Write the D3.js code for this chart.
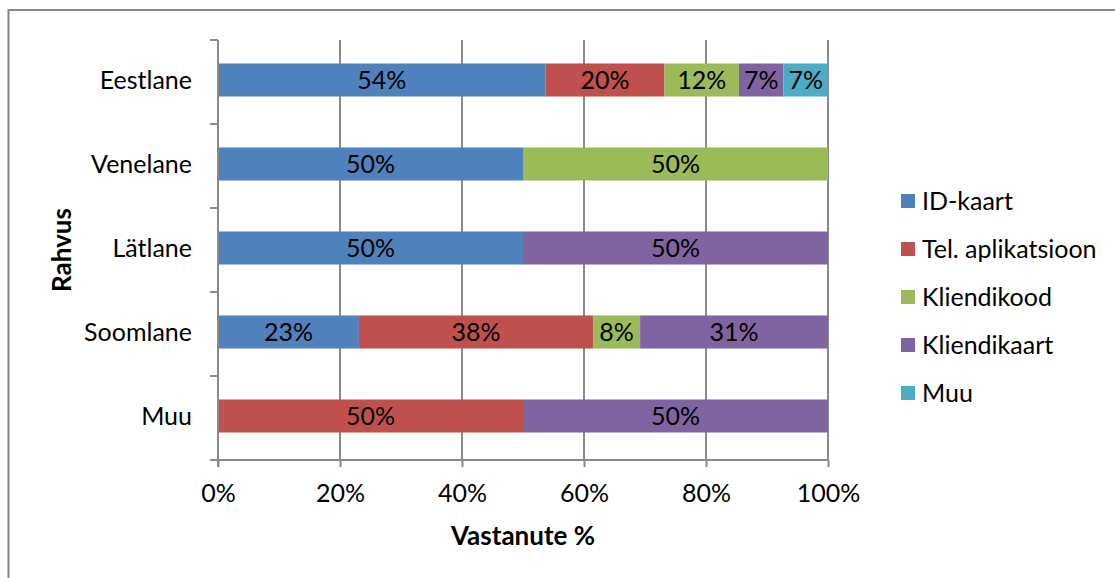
<!DOCTYPE html>
<html>
<head>
<meta charset="utf-8">
<script src="https://cdn.jsdelivr.net/npm/d3@7"></script>
<style>
  html, body { margin: 0; padding: 0; background: #fff; }
  svg { display: block; font-family: Lato, "Open Sans", sans-serif; }
</style>
</head>
<body>
<svg id="chart" width="1115" height="578"></svg>
<script>
// Nationalities (top to bottom) and response shares in percent
const categories = ["Eestlane", "Venelane", "Lätlane", "Soomlane", "Muu"];
const seriesNames = ["ID-kaart", "Tel. aplikatsioon", "Kliendikood", "Kliendikaart", "Muu"];
const idKaart      = [53.7, 50, 50, 23.1, 0];
const telAplik     = [19.5, 0, 0, 38.4, 50];
const kliendikood  = [12.2, 50, 0, 7.7, 0];
const kliendikaart = [7.3, 0, 50, 30.8, 50];
const muu          = [7.3, 0, 0, 0, 0];
const xTicks = [0, 20, 40, 60, 80, 100];
const colors = ["#4F81BD", "#C0504D", "#9BBB59", "#8064A2", "#4BACC6"];

const seriesValues = [idKaart, telAplik, kliendikood, kliendikaart, muu];
const rows = categories.map((c, i) => {
  const r = { cat: c };
  seriesNames.forEach((s, j) => r[s] = seriesValues[j][i]);
  return r;
});

const FS = 25;      // regular text size
const FSB = 26;     // bold title size

const svg = d3.select("#chart");
const plot = { left: 218, right: 828, top: 40, bottom: 460 };

// outer chart frame
svg.append("rect")
  .attr("x", 8.5).attr("y", 10).attr("width", 1300).attr("height", 800)
  .attr("fill", "none").attr("stroke", "#878787").attr("stroke-width", 2);

const x = d3.scaleLinear().domain([0, 100]).range([plot.left, plot.right]);
const y = d3.scaleBand().domain(categories).range([plot.top - 2, plot.bottom - 2])
  .paddingInner(0.607).paddingOuter(0.3035);

const gridColor = "#8a8a8a";

// vertical gridlines
svg.append("g").selectAll("line").data(xTicks.filter(t => t > 0)).join("line")
  .attr("x1", d => x(d)).attr("x2", d => x(d))
  .attr("y1", plot.top).attr("y2", plot.bottom)
  .attr("stroke", gridColor).attr("stroke-width", 2);

// stacked bars
const stack = d3.stack().keys(seriesNames)(rows);
const layers = svg.append("g").selectAll("g").data(stack).join("g")
  .attr("fill", (d, i) => colors[i]);
layers.selectAll("rect").data(d => d.filter(p => p[1] - p[0] > 0)).join("rect")
  .attr("x", d => x(d[0]))
  .attr("width", d => x(d[1]) - x(d[0]))
  .attr("y", d => y(d.data.cat))
  .attr("height", y.bandwidth());

// value labels
const fmt = v => Math.round(v) + "%";
layers.selectAll("text").data(d => d.filter(p => p[1] - p[0] > 0)).join("text")
  .attr("x", d => (x(d[0]) + x(d[1])) / 2)
  .attr("y", d => y(d.data.cat) + y.bandwidth() / 2)
  .attr("dy", "0.36em")
  .attr("text-anchor", "middle")
  .attr("fill", "#000")
  .attr("font-size", FS)
  .text(d => fmt(d[1] - d[0]));

// x axis
const xAxis = svg.append("g").attr("transform", `translate(0,${plot.bottom})`)
  .call(d3.axisBottom(x).tickValues(xTicks).tickFormat(d => d + "%").tickSize(7).tickSizeOuter(0));
xAxis.select(".domain").attr("stroke", gridColor).attr("stroke-width", 2)
  .attr("d", `M${plot.left - 8},0H${plot.right}`);
xAxis.selectAll(".tick line").attr("stroke", gridColor).attr("stroke-width", 2);
xAxis.selectAll(".tick text").attr("font-size", FS).attr("fill", "#000")
  .attr("font-family", "Lato, sans-serif").attr("y", 0).attr("dy", 42);

// y axis with ticks at category boundaries
const yAxisG = svg.append("g");
yAxisG.append("line")
  .attr("x1", plot.left).attr("x2", plot.left)
  .attr("y1", plot.top).attr("y2", plot.bottom + 7)
  .attr("stroke", gridColor).attr("stroke-width", 2);
const boundaries = d3.range(categories.length + 1).map(i => plot.top + i * (plot.bottom - plot.top) / categories.length);
yAxisG.selectAll("line.tk").data(boundaries).join("line").attr("class", "tk")
  .attr("x1", plot.left - 8).attr("x2", plot.left)
  .attr("y1", d => d).attr("y2", d => d)
  .attr("stroke", gridColor).attr("stroke-width", 2);
yAxisG.selectAll("text").data(categories).join("text")
  .attr("x", plot.left - 26)
  .attr("y", d => y(d) + y.bandwidth() / 2)
  .attr("dy", "0.36em")
  .attr("text-anchor", "end")
  .attr("font-size", FS)
  .text(d => d);

// axis titles
svg.append("text")
  .attr("x", (plot.left + plot.right) / 2).attr("y", 545)
  .attr("text-anchor", "middle").attr("font-weight", "bold").attr("font-size", FSB)
  .text("Vastanute %");
svg.append("text")
  .attr("transform", `translate(71,${(plot.top + plot.bottom) / 2}) rotate(-90)`)
  .attr("text-anchor", "middle").attr("font-weight", "bold").attr("font-size", FSB)
  .text("Rahvus");

// legend
const legend = svg.append("g").attr("transform", "translate(901,201)");
const items = legend.selectAll("g").data(seriesNames).join("g")
  .attr("transform", (d, i) => `translate(0,${i * 48})`);
items.append("rect").attr("x", 0).attr("y", -7).attr("width", 14).attr("height", 14)
  .attr("fill", (d, i) => colors[i]);
items.append("text").attr("x", 21).attr("y", 0).attr("dy", "0.36em")
  .attr("font-size", FS).text(d => d);
</script>
</body>
</html>
